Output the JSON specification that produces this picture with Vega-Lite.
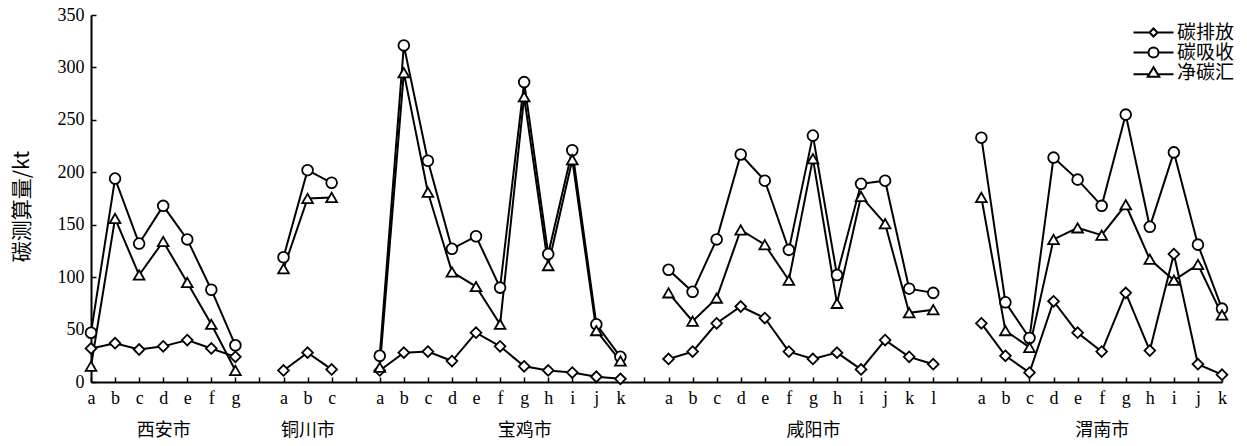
{
  "$schema": "https://vega.github.io/schema/vega-lite/v6.json",
  "width": 1131,
  "height": 367,
  "autosize": {"type": "none"},
  "padding": {"left": 91, "top": 15, "right": 25, "bottom": 64},
  "background": "white",
  "config": {"view": {"stroke": null}, "axis": {"grid": false}},
  "data": {"values": [
    {"id": "西安市a", "city": "西安市", "碳排放": 32, "碳吸收": 47, "净碳汇": 15},
    {"id": "西安市b", "city": "西安市", "碳排放": 37, "碳吸收": 194, "净碳汇": 156},
    {"id": "西安市c", "city": "西安市", "碳排放": 31, "碳吸收": 132, "净碳汇": 102},
    {"id": "西安市d", "city": "西安市", "碳排放": 34, "碳吸收": 168, "净碳汇": 134},
    {"id": "西安市e", "city": "西安市", "碳排放": 40, "碳吸收": 136, "净碳汇": 95},
    {"id": "西安市f", "city": "西安市", "碳排放": 32, "碳吸收": 88, "净碳汇": 55},
    {"id": "西安市g", "city": "西安市", "碳排放": 24, "碳吸收": 35, "净碳汇": 11},
    {"id": "铜川市a", "city": "铜川市", "碳排放": 11, "碳吸收": 119, "净碳汇": 108},
    {"id": "铜川市b", "city": "铜川市", "碳排放": 28, "碳吸收": 202, "净碳汇": 175},
    {"id": "铜川市c", "city": "铜川市", "碳排放": 12, "碳吸收": 190, "净碳汇": 176},
    {"id": "宝鸡市a", "city": "宝鸡市", "碳排放": 11, "碳吸收": 25, "净碳汇": 14},
    {"id": "宝鸡市b", "city": "宝鸡市", "碳排放": 28, "碳吸收": 321, "净碳汇": 295},
    {"id": "宝鸡市c", "city": "宝鸡市", "碳排放": 29, "碳吸收": 211, "净碳汇": 181},
    {"id": "宝鸡市d", "city": "宝鸡市", "碳排放": 20, "碳吸收": 127, "净碳汇": 105},
    {"id": "宝鸡市e", "city": "宝鸡市", "碳排放": 47, "碳吸收": 139, "净碳汇": 91},
    {"id": "宝鸡市f", "city": "宝鸡市", "碳排放": 34, "碳吸收": 90, "净碳汇": 55},
    {"id": "宝鸡市g", "city": "宝鸡市", "碳排放": 15, "碳吸收": 286, "净碳汇": 272},
    {"id": "宝鸡市h", "city": "宝鸡市", "碳排放": 11, "碳吸收": 122, "净碳汇": 111},
    {"id": "宝鸡市i", "city": "宝鸡市", "碳排放": 9, "碳吸收": 221, "净碳汇": 212},
    {"id": "宝鸡市j", "city": "宝鸡市", "碳排放": 5, "碳吸收": 55, "净碳汇": 49},
    {"id": "宝鸡市k", "city": "宝鸡市", "碳排放": 3, "碳吸收": 24, "净碳汇": 20},
    {"id": "咸阳市a", "city": "咸阳市", "碳排放": 22, "碳吸收": 107, "净碳汇": 85},
    {"id": "咸阳市b", "city": "咸阳市", "碳排放": 29, "碳吸收": 86, "净碳汇": 58},
    {"id": "咸阳市c", "city": "咸阳市", "碳排放": 56, "碳吸收": 136, "净碳汇": 80},
    {"id": "咸阳市d", "city": "咸阳市", "碳排放": 72, "碳吸收": 217, "净碳汇": 145},
    {"id": "咸阳市e", "city": "咸阳市", "碳排放": 61, "碳吸收": 192, "净碳汇": 131},
    {"id": "咸阳市f", "city": "咸阳市", "碳排放": 29, "碳吸收": 126, "净碳汇": 97},
    {"id": "咸阳市g", "city": "咸阳市", "碳排放": 22, "碳吸收": 235, "净碳汇": 213},
    {"id": "咸阳市h", "city": "咸阳市", "碳排放": 28, "碳吸收": 102, "净碳汇": 75},
    {"id": "咸阳市i", "city": "咸阳市", "碳排放": 12, "碳吸收": 189, "净碳汇": 177},
    {"id": "咸阳市j", "city": "咸阳市", "碳排放": 40, "碳吸收": 192, "净碳汇": 151},
    {"id": "咸阳市k", "city": "咸阳市", "碳排放": 24, "碳吸收": 89, "净碳汇": 66},
    {"id": "咸阳市l", "city": "咸阳市", "碳排放": 17, "碳吸收": 85, "净碳汇": 69},
    {"id": "渭南市a", "city": "渭南市", "碳排放": 56, "碳吸收": 233, "净碳汇": 176},
    {"id": "渭南市b", "city": "渭南市", "碳排放": 25, "碳吸收": 76, "净碳汇": 49},
    {"id": "渭南市c", "city": "渭南市", "碳排放": 9, "碳吸收": 42, "净碳汇": 33},
    {"id": "渭南市d", "city": "渭南市", "碳排放": 77, "碳吸收": 214, "净碳汇": 136},
    {"id": "渭南市e", "city": "渭南市", "碳排放": 47, "碳吸收": 193, "净碳汇": 147},
    {"id": "渭南市f", "city": "渭南市", "碳排放": 29, "碳吸收": 168, "净碳汇": 140},
    {"id": "渭南市g", "city": "渭南市", "碳排放": 85, "碳吸收": 255, "净碳汇": 169},
    {"id": "渭南市h", "city": "渭南市", "碳排放": 30, "碳吸收": 148, "净碳汇": 117},
    {"id": "渭南市i", "city": "渭南市", "碳排放": 122, "碳吸收": 219, "净碳汇": 97},
    {"id": "渭南市j", "city": "渭南市", "碳排放": 17, "碳吸收": 131, "净碳汇": 112},
    {"id": "渭南市k", "city": "渭南市", "碳排放": 7, "碳吸收": 70, "净碳汇": 64}
  ]},
  "transform": [{"fold": ["碳排放", "碳吸收", "净碳汇"], "as": ["series", "value"]}],
  "encoding": {
    "x": {
      "field": "id",
      "type": "ordinal",
      "scale": {
        "type": "point",
        "padding": 0,
        "domain": ["西安市a","西安市b","西安市c","西安市d","西安市e","西安市f","西安市g","gap1",
                   "铜川市a","铜川市b","铜川市c","gap2",
                   "宝鸡市a","宝鸡市b","宝鸡市c","宝鸡市d","宝鸡市e","宝鸡市f","宝鸡市g","宝鸡市h","宝鸡市i","宝鸡市j","宝鸡市k","gap3",
                   "咸阳市a","咸阳市b","咸阳市c","咸阳市d","咸阳市e","咸阳市f","咸阳市g","咸阳市h","咸阳市i","咸阳市j","咸阳市k","咸阳市l","gap4",
                   "渭南市a","渭南市b","渭南市c","渭南市d","渭南市e","渭南市f","渭南市g","渭南市h","渭南市i","渭南市j","渭南市k"]
      },
      "axis": {
        "title": null,
        "labelFont": "Liberation Serif, Noto Sans CJK SC",
        "labelFontSize": 18,
        "labelColor": "black",
        "labelAngle": 0,
        "labelPadding": 12,
        "labelBaseline": "top",
        "labelLineHeight": 32,
        "labelOverlap": false,
        "labelBound": false,
        "labelFlush": false,
        "tickSize": -5,
        "tickColor": "black",
        "tickWidth": 1.5,
        "domainColor": "black",
        "domainWidth": 2,
        "labelExpr": "datum.value==='西安市d' ? ['d','\u00a0\u00a0\u00a0\u00a0\u00a0西安市'] : datum.value==='铜川市b' ? ['b','\u00a0\u00a0铜川市'] : datum.value==='宝鸡市g' ? ['g','宝鸡市\u00a0\u00a0'] : datum.value==='咸阳市g' ? ['g','\u00a0\u00a0\u00a0\u00a0咸阳市'] : datum.value==='渭南市f' ? ['f','\u00a0\u00a0\u00a0\u00a0\u00a0\u00a0渭南市'] : indexof(datum.value,'gap')===0 ? '' : slice(datum.value,-1)"
      }
    },
    "y": {
      "field": "value",
      "type": "quantitative",
      "scale": {"domain": [0, 350], "nice": false},
      "axis": {
        "values": [0, 50, 100, 150, 200, 250, 300, 350],
        "title": "碳测算量/kt",
        "titleFont": "Noto Sans CJK SC",
        "titleFontSize": 21,
        "titleFontWeight": "normal",
        "titleColor": "black",
        "titlePadding": 25,
        "titleY": 191,
        "labelFont": "Liberation Serif",
        "labelFontSize": 18,
        "labelColor": "black",
        "labelPadding": 12,
        "tickSize": -5,
        "tickColor": "black",
        "tickWidth": 1.5,
        "domainColor": "black",
        "domainWidth": 2
      }
    }
  },
  "layer": [
    {
      "mark": {"type": "line", "color": "black", "strokeWidth": 2},
      "encoding": {"detail": [{"field": "city"}, {"field": "series"}]}
    },
    {
      "mark": {"type": "point", "filled": true, "fill": "white", "stroke": "black", "strokeWidth": 1.8, "size": 115, "opacity": 1},
      "encoding": {
        "shape": {
          "field": "series",
          "type": "nominal",
          "scale": {"domain": ["碳排放", "碳吸收", "净碳汇"], "range": ["diamond", "circle", "triangle-up"]},
          "legend": null
        }
      }
    },
    {
      "transform": [{"filter": "datum.series === 'none'"}],
      "mark": {"type": "point", "filled": false, "color": "black", "strokeWidth": 2, "opacity": 1},
      "encoding": {
        "shape": {
          "field": "series",
          "type": "nominal",
          "scale": {
            "domain": ["碳排放", "碳吸收", "净碳汇"],
            "range": [
              "M-4,0H-0.8M0.8,0H4M0,-0.8L0.8,0L0,0.8L-0.8,0Z",
              "M-4,0H-1M1,0H4M-1,0A1,1 0 1,0 1,0A1,1 0 1,0 -1,0Z",
              "M-4,0.35H-0.85M0.85,0.35H4M0,-1.05L1.15,0.85L-1.15,0.85Z"
            ]
          },
          "legend": {
            "title": null,
            "orient": "none",
            "legendX": 1053,
            "legendY": 8,
            "padding": 0,
            "rowPadding": 0,
            "symbolSize": 100,
            "symbolStrokeWidth": 2,
            "labelFont": "Liberation Serif, Noto Sans CJK SC",
            "labelFontSize": 19,
            "labelColor": "black",
            "labelOffset": 14,
            "encode": {
              "symbols": {
                "update": {
                  "stroke": {"value": "black"},
                  "strokeWidth": {"value": 2},
                  "fill": {"value": "white"},
                  "opacity": {"value": 1}
                }
              }
            }
          }
        }
      }
    }
  ],
  "resolve": {"scale": {"shape": "independent"}}
}
